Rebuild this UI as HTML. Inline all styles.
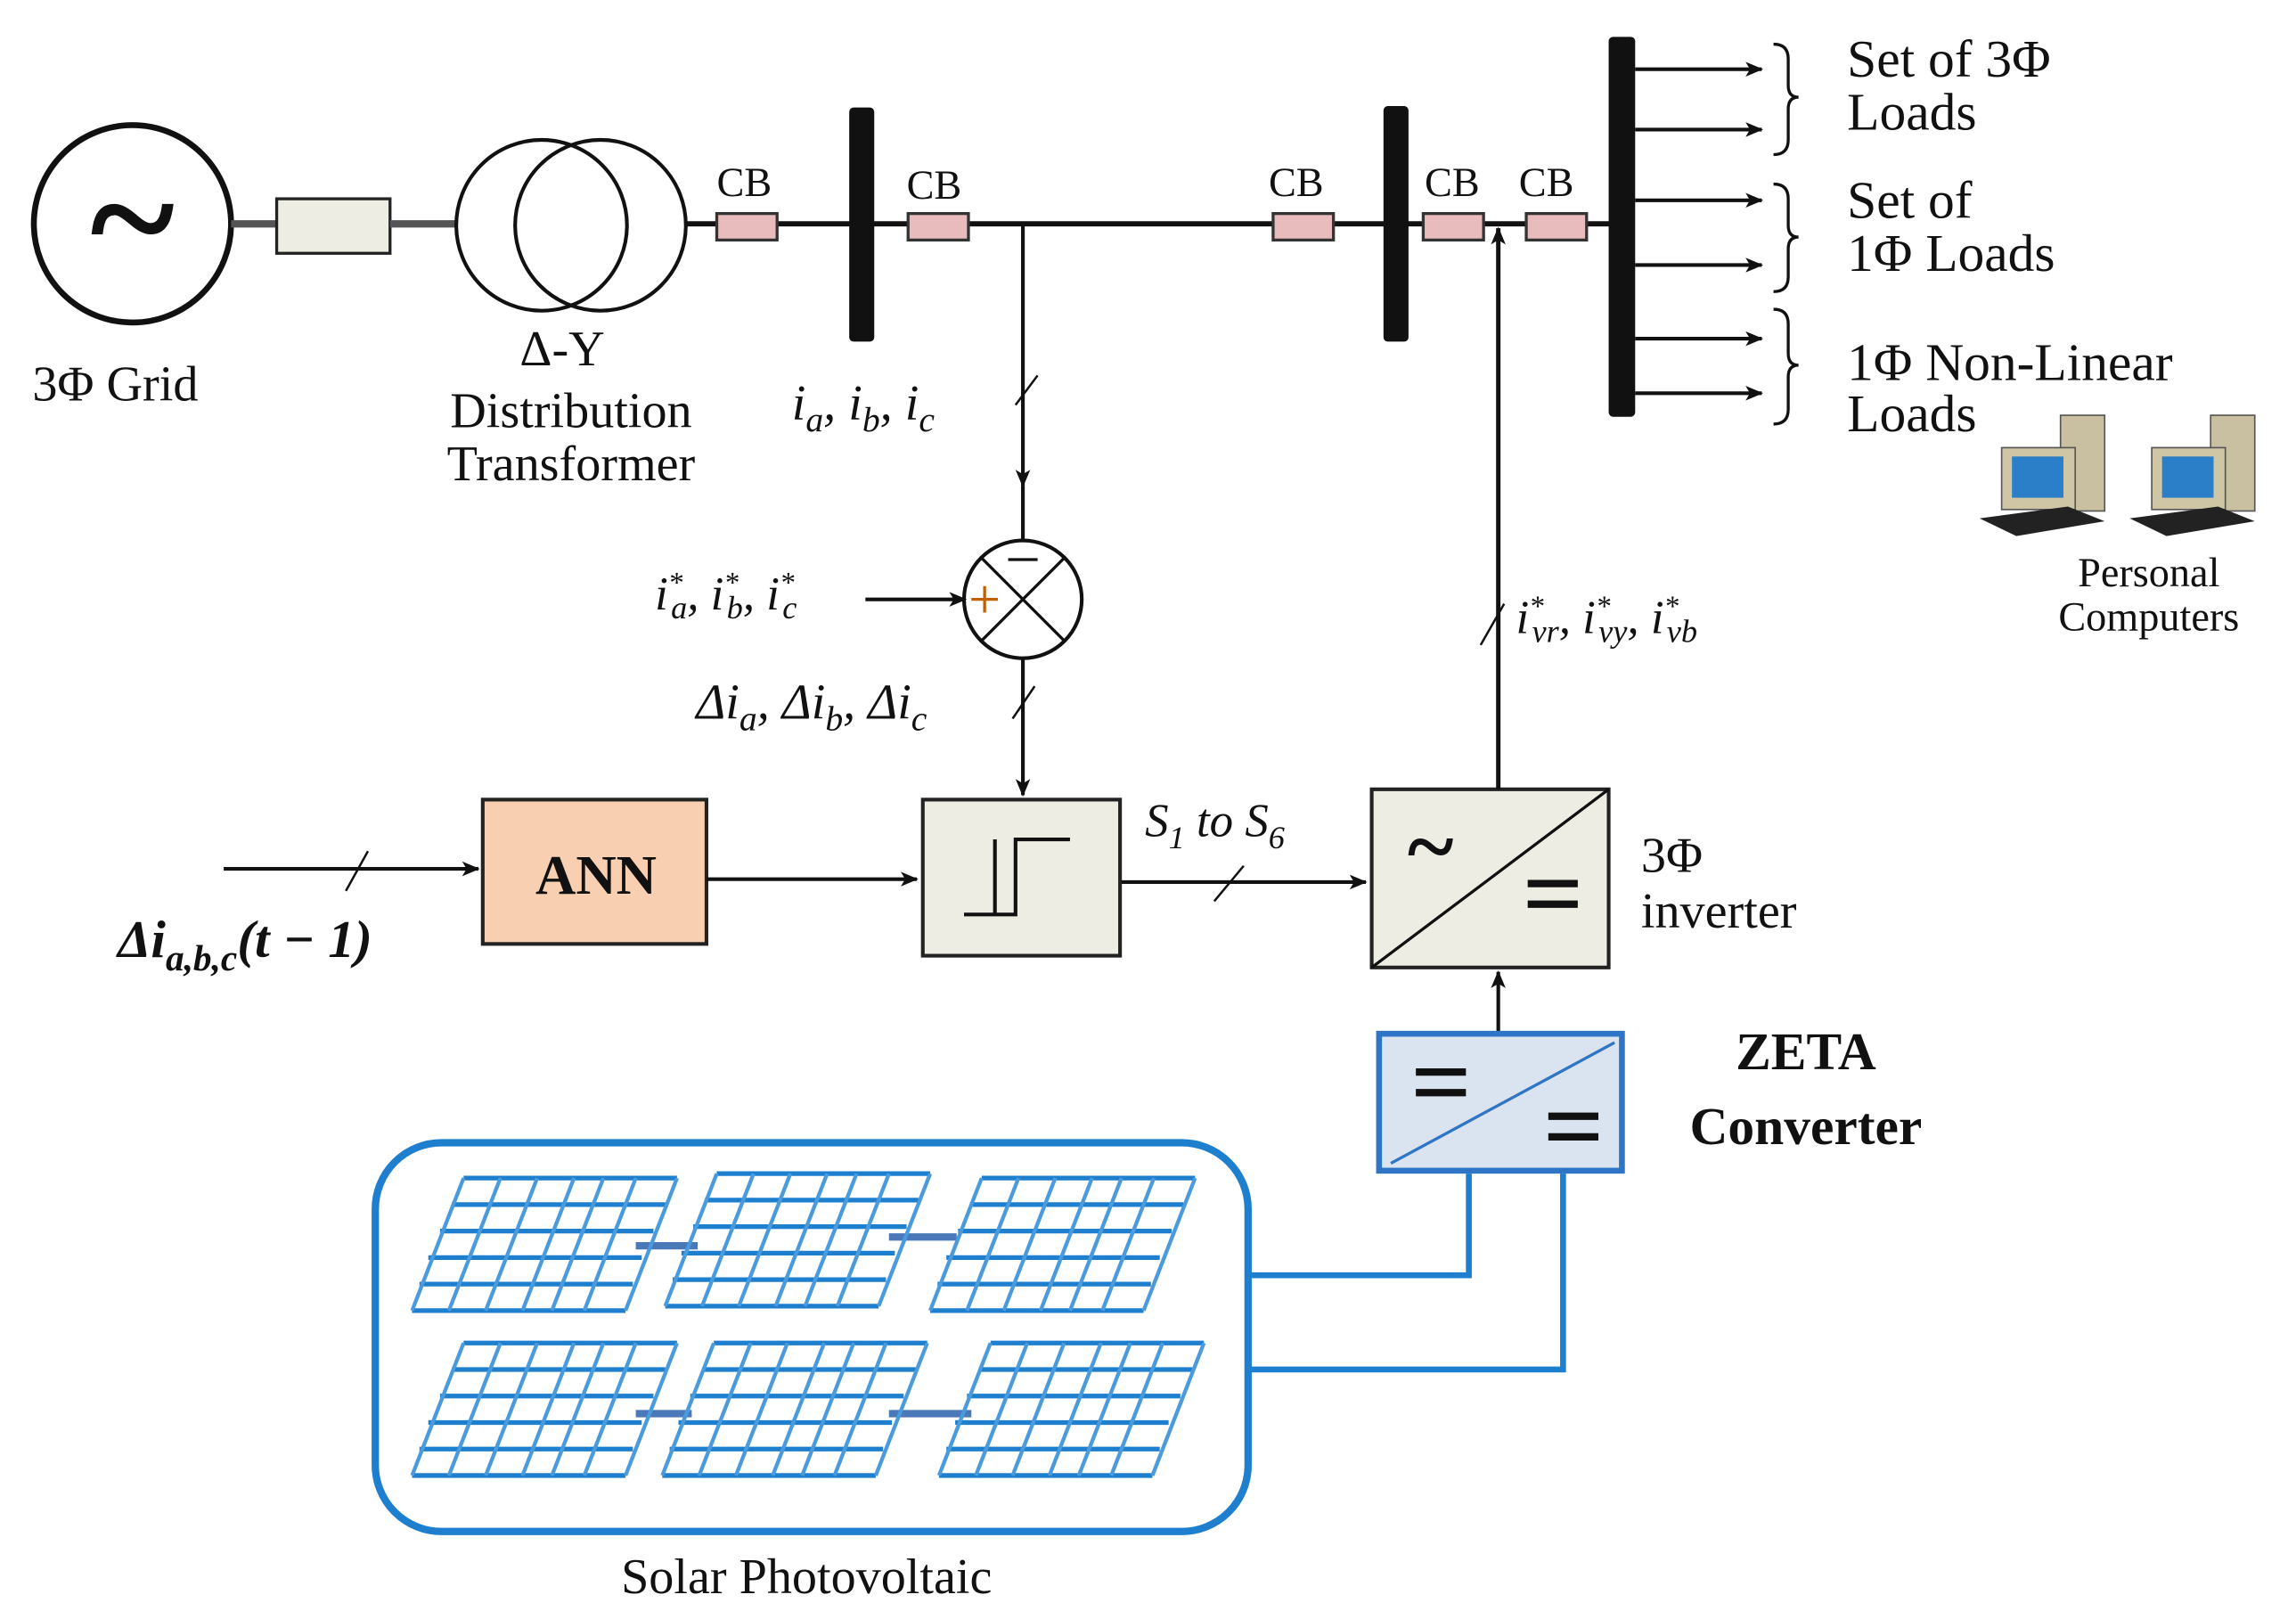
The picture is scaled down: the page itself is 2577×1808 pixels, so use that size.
<!DOCTYPE html>
<html><head><meta charset="utf-8"><style>
html,body{margin:0;padding:0;background:#fff;}
svg{display:block;}
text{font-family:"Liberation Serif",serif;fill:#111;}
</style></head><body>
<svg width="2577" height="1808" viewBox="0 0 1560 1094" preserveAspectRatio="none" xmlns="http://www.w3.org/2000/svg">
<defs>
<marker id="ar" markerWidth="12" markerHeight="10" refX="11" refY="5" orient="auto" markerUnits="userSpaceOnUse">
<path d="M0,0 L12,5 L0,10 L3,5 Z" fill="#111"/></marker>
<g id="panel" stroke="#1e7fcf" stroke-width="3.2" fill="none">
<path d="M35,0 H180 M27,18 H172 M19,36 H164 M11,54 H156 M5,72 H150 M0,90 H145"/>
<path d="M35,0 L0,90 M60,0 L25,90 M85,0 L50,90 M110,0 L75,90 M130,0 L95,90 M152,0 L117,90 M180,0 L145,90" stroke-width="2.6" stroke="#4a9ade"/>
</g>
</defs>

<circle cx="90" cy="152" r="67" fill="none" stroke="#111" stroke-width="4"/>
<text x="90" y="185" font-size="110" font-weight="bold" text-anchor="middle">~</text>
<text x="22" y="272" font-size="34">3Φ Grid</text>
<line x1="157" y1="152" x2="188" y2="152" stroke="#555" stroke-width="5"/>
<rect x="188" y="135" width="77" height="37" fill="#ededE3" stroke="#222" stroke-width="2"/>
<line x1="265" y1="152" x2="310" y2="152" stroke="#555" stroke-width="5"/>
<circle cx="368" cy="153" r="58" fill="none" stroke="#111" stroke-width="2.5"/>
<circle cx="408" cy="153" r="58" fill="none" stroke="#111" stroke-width="2.5"/>
<text x="382" y="248" font-size="34" text-anchor="middle">Δ-Y</text>
<text x="388" y="290" font-size="34" text-anchor="middle">Distribution</text>
<text x="388" y="326" font-size="34" text-anchor="middle">Transformer</text>

<line x1="466" y1="152" x2="1100" y2="152" stroke="#111" stroke-width="3.5"/>
<g fill="#e8bcbc" stroke="#333" stroke-width="2">
<rect x="487" y="145" width="41" height="18"/><rect x="617" y="145" width="41" height="18"/>
<rect x="865" y="145" width="41" height="18"/><rect x="967" y="145" width="41" height="18"/>
<rect x="1037" y="145" width="41" height="18"/></g>
<g font-size="28"><text x="487" y="133">CB</text><text x="616" y="135">CB</text><text x="862" y="133">CB</text><text x="968" y="133">CB</text><text x="1032" y="133">CB</text></g>
<rect x="577" y="73" width="17" height="159" rx="3" fill="#111"/>
<rect x="940" y="72" width="17" height="160" rx="3" fill="#111"/>
<rect x="1093" y="25" width="18" height="258" rx="3" fill="#111"/>

<g stroke="#111" stroke-width="2.5" marker-end="url(#ar)">
<line x1="1111" y1="47" x2="1197" y2="47"/><line x1="1111" y1="88" x2="1197" y2="88"/>
<line x1="1111" y1="136" x2="1197" y2="136"/><line x1="1111" y1="180" x2="1197" y2="180"/>
<line x1="1111" y1="230" x2="1197" y2="230"/><line x1="1111" y1="267" x2="1197" y2="267"/></g>
<g fill="none" stroke="#111" stroke-width="2">
<path d="M1205,30 Q1215,30 1215,40 V58 Q1215,66 1222,66 Q1215,66 1215,74 V95 Q1215,105 1205,105"/>
<path d="M1205,125 Q1215,125 1215,135 V153 Q1215,161 1222,161 Q1215,161 1215,169 V188 Q1215,198 1205,198"/>
<path d="M1205,210 Q1215,210 1215,220 V240 Q1215,248 1222,248 Q1215,248 1215,256 V278 Q1215,288 1205,288"/></g>
<g font-size="36"><text x="1255" y="52">Set of 3Φ</text><text x="1255" y="88">Loads</text>
<text x="1255" y="148">Set of</text><text x="1255" y="184">1Φ Loads</text>
<text x="1255" y="258">1Φ Non-Linear</text><text x="1255" y="293">Loads</text></g>
<g>
<g transform="translate(1345,282)">
<rect x="55" y="0" width="30" height="65" fill="#c8c0a0" stroke="#555"/>
<rect x="15" y="22" width="50" height="42" fill="#cfc6a6" stroke="#555"/>
<rect x="22" y="28" width="35" height="28" fill="#2a7fc8"/>
<path d="M0,70 L60,62 L85,72 L25,82 Z" fill="#222"/>
</g>
<g transform="translate(1447,282)">
<rect x="55" y="0" width="30" height="65" fill="#c8c0a0" stroke="#555"/>
<rect x="15" y="22" width="50" height="42" fill="#cfc6a6" stroke="#555"/>
<rect x="22" y="28" width="35" height="28" fill="#2a7fc8"/>
<path d="M0,70 L60,62 L85,72 L25,82 Z" fill="#222"/>
</g>
</g>
<text x="1460" y="398" font-size="28" text-anchor="middle">Personal</text>
<text x="1460" y="428" font-size="28" text-anchor="middle">Computers</text>

<line x1="695" y1="152" x2="695" y2="330" stroke="#111" stroke-width="2.5" marker-end="url(#ar)"/>
<line x1="690" y1="275" x2="705" y2="255" stroke="#111" stroke-width="1.5"/>
<text x="538" y="285" font-size="34" font-style="italic">i<tspan font-size="24" dy="8">a</tspan><tspan dy="-8">, i</tspan><tspan font-size="24" dy="8">b</tspan><tspan dy="-8">, i</tspan><tspan font-size="24" dy="8">c</tspan></text>
<line x1="695" y1="330" x2="695" y2="367" stroke="#111" stroke-width="2.5"/>
<circle cx="695" cy="407" r="40" fill="#fff" stroke="#111" stroke-width="2.5"/>
<path d="M667,379 L723,435 M723,379 L667,435" stroke="#111" stroke-width="2"/>
<line x1="685" y1="380" x2="705" y2="380" stroke="#111" stroke-width="2"/>
<path d="M660,407 H678 M669,398 V416" stroke="#c06000" stroke-width="2"/>
<line x1="588" y1="407" x2="656" y2="407" stroke="#111" stroke-width="2.5" marker-end="url(#ar)"/>
<text x="445" y="414" font-size="32" font-style="italic">i<tspan font-size="20" dy="-12">*</tspan><tspan font-size="22" dy="18" dx="-8">a</tspan><tspan dy="-6">, i</tspan><tspan font-size="20" dy="-12">*</tspan><tspan font-size="22" dy="18" dx="-8">b</tspan><tspan dy="-6">, i</tspan><tspan font-size="20" dy="-12">*</tspan><tspan font-size="22" dy="18" dx="-8">c</tspan></text>
<line x1="695" y1="447" x2="695" y2="540" stroke="#111" stroke-width="2.5" marker-end="url(#ar)"/>
<line x1="688" y1="488" x2="703" y2="466" stroke="#111" stroke-width="1.5"/>
<text x="473" y="488" font-size="34" font-style="italic">Δi<tspan font-size="24" dy="8">a</tspan><tspan dy="-8">, Δi</tspan><tspan font-size="24" dy="8">b</tspan><tspan dy="-8">, Δi</tspan><tspan font-size="24" dy="8">c</tspan></text>

<line x1="152" y1="590" x2="325" y2="590" stroke="#111" stroke-width="2.5" marker-end="url(#ar)"/>
<line x1="235" y1="605" x2="250" y2="578" stroke="#111" stroke-width="1.5"/>
<text x="80" y="650" font-size="36" font-weight="bold" font-style="italic">Δi<tspan font-size="25" dy="9">a,b,c</tspan><tspan dy="-9">(t − 1)</tspan></text>
<rect x="328" y="543" width="152" height="98" fill="#f8cfb0" stroke="#222" stroke-width="2.5"/>
<text x="405" y="607" font-size="38" font-weight="bold" text-anchor="middle">ANN</text>
<line x1="480" y1="597" x2="623" y2="597" stroke="#111" stroke-width="2.5" marker-end="url(#ar)"/>
<rect x="627" y="543" width="134" height="106" fill="#ededE3" stroke="#222" stroke-width="2.5"/>
<path d="M655,621 H690 V570 H727 M676,621 V570" fill="none" stroke="#111" stroke-width="2.5"/>
<line x1="762" y1="599" x2="928" y2="599" stroke="#111" stroke-width="2.5" marker-end="url(#ar)"/>
<line x1="825" y1="612" x2="845" y2="588" stroke="#111" stroke-width="1.5"/>
<text x="778" y="568" font-size="32" font-style="italic">S<tspan font-size="22" dy="8">1</tspan><tspan dy="-8"> to S</tspan><tspan font-size="22" dy="8">6</tspan></text>
<rect x="932" y="536" width="161" height="121" fill="#ededE3" stroke="#222" stroke-width="2.5"/>
<line x1="932" y1="657" x2="1093" y2="536" stroke="#111" stroke-width="2"/>
<text x="972" y="595" font-size="60" font-weight="bold" text-anchor="middle">~</text>
<path d="M1038,600 H1072 M1038,614 H1072" stroke="#111" stroke-width="5"/>
<text x="1115" y="592" font-size="34">3Φ</text>
<text x="1115" y="630" font-size="34">inverter</text>
<line x1="1018" y1="536" x2="1018" y2="155" stroke="#111" stroke-width="3" marker-end="url(#ar)"/>
<line x1="1006" y1="438" x2="1022" y2="410" stroke="#111" stroke-width="1.5"/>
<text x="1030" y="430" font-size="32" font-style="italic">i<tspan font-size="20" dy="-12">*</tspan><tspan font-size="22" dy="18" dx="-8">vr</tspan><tspan dy="-6">, i</tspan><tspan font-size="20" dy="-12">*</tspan><tspan font-size="22" dy="18" dx="-8">vy</tspan><tspan dy="-6">, i</tspan><tspan font-size="20" dy="-12">*</tspan><tspan font-size="22" dy="18" dx="-8">vb</tspan></text>

<line x1="1018" y1="702" x2="1018" y2="660" stroke="#111" stroke-width="2.5" marker-end="url(#ar)"/>
<rect x="937" y="702" width="165" height="93" fill="#dae3f0" stroke="#2e75c5" stroke-width="4"/>
<line x1="945" y1="790" x2="1097" y2="708" stroke="#2e75c5" stroke-width="2"/>
<path d="M962,728 H996 M962,742 H996 M1052,758 H1086 M1052,772 H1086" stroke="#111" stroke-width="5"/>
<text x="1227" y="726" font-size="36" font-weight="bold" text-anchor="middle">ZETA</text>
<text x="1227" y="777" font-size="36" font-weight="bold" text-anchor="middle">Converter</text>

<rect x="255" y="776" width="593" height="264" rx="45" fill="#fff" stroke="#1e7fcf" stroke-width="5"/>
<path d="M848,866 H998 V797 M848,930 H1062 V797" fill="none" stroke="#1e7fcf" stroke-width="4"/>
<g stroke="#4a78b8" stroke-width="5">
<line x1="432" y1="846" x2="474" y2="846"/><line x1="604" y1="840" x2="650" y2="840"/>
<line x1="432" y1="960" x2="470" y2="960"/><line x1="604" y1="960" x2="660" y2="960"/></g>
<use href="#panel" x="280" y="800"/>
<use href="#panel" x="452" y="797"/>
<use href="#panel" x="632" y="800"/>
<use href="#panel" x="280" y="912"/>
<use href="#panel" x="450" y="912"/>
<use href="#panel" x="638" y="912"/>
<text x="548" y="1082" font-size="34" text-anchor="middle">Solar Photovoltaic</text>
</svg>
</body></html>
